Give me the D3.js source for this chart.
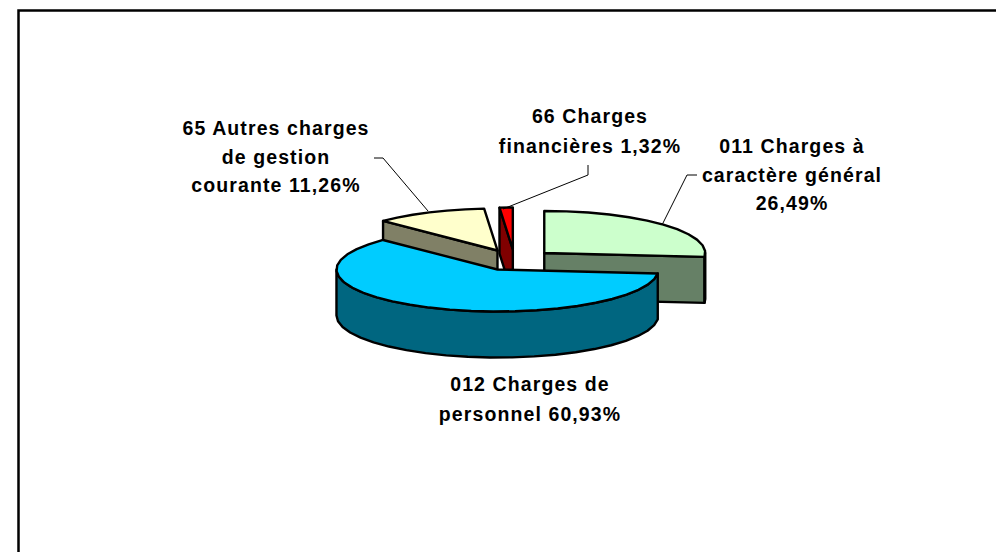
<!DOCTYPE html>
<html>
<head>
<meta charset="utf-8">
<script src="https://cdn.jsdelivr.net/npm/d3@7"></script>
<style>
  body { margin: 0; background: #fff; }
  svg { display: block; }
  .label { font-family: "Liberation Sans", Arial, sans-serif; font-weight: bold; font-size: 19.5px; letter-spacing: 1.1px; fill: #000; text-anchor: middle; }
</style>
</head>
<body>
<div id="chart"></div>
<script>
 // Chart values, in the drawing order of the pie (clockwise from 12 o'clock)
 const codes = ['011', '012', '65', '66'];
 const shares = [26.49, 60.93, 11.26, 1.32];
 const topColors = ['#ccffcc', '#00ccff', '#ffffcc', '#ff0000'];
 const wallColors = ['#668066', '#006680', '#808066', '#800000'];
 const labelLines = [
     ['011 Charges à', 'caractère général', '26,49%'],
     ['012 Charges de', 'personnel 60,93%'],
     ['65 Autres charges', 'de gestion', 'courante 11,26%'],
     ['66 Charges', 'financières 1,32%']
 ];

 // Layout of the page and the fake 3D pie
 const width = 996;
 const height = 552;
 const center = {x: 514.5, y: 260};
 const rx = 161;
 const ry = 42;
 const depth = 46;
 const explode = 0.25;

 const labelPos = {
     '011': {x: 792, y: 153, step: 28.5},
     '012': {x: 530, y: 391, step: 30},
     '65': {x: 276, y: 135, step: 28.5},
     '66': {x: 590, y: 123, step: 30}
 };
 const leaders = {
     '011': [[697, 175], [687, 175], [662, 225]],
     '65': [[374, 158], [383, 158], [428, 211]],
     '66': [[588, 165], [588, 175], [503, 209]]
 };

 const svg = d3.select('#chart')
     .append('svg')
     .attr('width', width)
     .attr('height', height);

 // Frame: open on the right and at the bottom, it runs off the picture
 svg.append('path')
     .attr('d', `M18.5,${height}V10.5H${width}`)
     .attr('fill', 'none')
     .attr('stroke', '#000')
     .attr('stroke-width', 2.5);

 const pie = d3.pie().sort(null).value(d => d.share);
 const slices = pie(codes.map((code, i) => ({code, share: shares[i], top: topColors[i], wall: wallColors[i], lines: labelLines[i]})));

 // Screen position of an angle on a slice's ellipse (0 = up, clockwise)
 function rim(c, a) {
     return [c.x + rx * Math.sin(a), c.y - ry * Math.cos(a)];
 }

 // The original arcs are coarse polylines, so keep a rather large step
 function arcPoints(c, a0, a1) {
     const n = Math.max(1, Math.ceil((a1 - a0) / 0.14));
     return d3.range(n + 1).map(i => rim(c, a0 + (a1 - a0) * i / n));
 }

 const line = d3.line();
 const down = p => [p[0], p[1] + depth];

 function drawFace(points, fill) {
     svg.append('path')
         .attr('d', line(points) + 'Z')
         .attr('fill', fill)
         .attr('stroke', '#000')
         .attr('stroke-width', 2.4)
         .attr('stroke-linejoin', 'round');
 }

 function drawSlice(d) {
     const mid = (d.startAngle + d.endAngle) / 2;
     const c = {
         x: center.x + explode * rx * Math.sin(mid),
         y: center.y - explode * ry * Math.cos(mid)
     };
     const apex = [c.x, c.y];

     // Cut faces, only those turned towards the viewer
     if (Math.sin(d.startAngle) < -1e-6) {
         const p = rim(c, d.startAngle);
         drawFace([apex, p, down(p), down(apex)], d.data.wall);
     }
     if (Math.sin(d.endAngle) > 1e-6) {
         const p = rim(c, d.endAngle);
         drawFace([apex, p, down(p), down(apex)], d.data.wall);
     }

     // Outer wall: the part of the rim on the front half
     const a0 = Math.max(d.startAngle, Math.PI / 2);
     const a1 = Math.min(d.endAngle, 3 * Math.PI / 2);
     if (a0 < a1) {
         const rimPts = arcPoints(c, a0, a1);
         drawFace(rimPts.concat(rimPts.map(down).reverse()), d.data.wall);
     }

     drawFace([apex].concat(arcPoints(c, d.startAngle, d.endAngle)), d.data.top);
 }

 // Back slices first, the big front slice last
 const order = ['66', '65', '011', '012'];
 order.forEach(code => drawSlice(slices.find(s => s.data.code === code)));

 // Leader lines
 Object.values(leaders).forEach(pts => {
     svg.append('path')
         .attr('d', line(pts))
         .attr('fill', 'none')
         .attr('stroke', '#000')
         .attr('stroke-width', 1);
 });

 // Labels
 slices.forEach(d => {
     const pos = labelPos[d.data.code];
     svg.append('text')
         .attr('class', 'label')
         .selectAll('tspan')
         .data(d.data.lines)
         .enter()
         .append('tspan')
         .attr('x', pos.x)
         .attr('y', (t, i) => pos.y + i * pos.step)
         .text(t => t);
 });
</script>
</body>
</html>
